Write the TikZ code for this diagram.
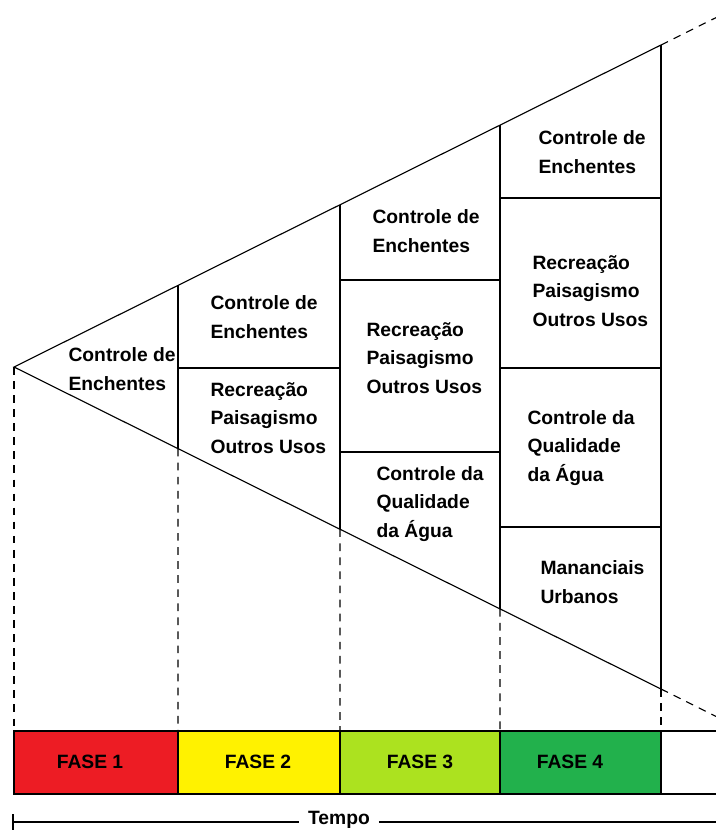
\documentclass[tikz,border=0pt]{standalone}
\usepackage{fontspec}
\setmainfont{Liberation Sans}
\usetikzlibrary{calc}

\definecolor{fasered}{HTML}{ED1C24}
\definecolor{faseyellow}{HTML}{FFF200}
\definecolor{faselime}{HTML}{ACE21F}
\definecolor{fasegreen}{HTML}{22B14C}

\tikzset{
    uso/.style={font=\bfseries\fontsize{13.7}{20.2}\selectfont, align=left, inner sep=0pt, anchor=west},
    fasebox/.style={draw, line width=0.8pt},
    guia/.style={line width=0.8pt, dash pattern=on 5.5pt off 4.5pt},
}

\begin{document}
\begin{tikzpicture}[x=0.025cm, y=-0.025cm, line width=0.8pt]
        \useasboundingbox (0,0) rectangle (716,830);
        % cone
        \coordinate (apex) at (14,367);
        \coordinate (t4) at (661,45);
        \coordinate (b4) at (661,689);
        \coordinate (t1) at ($(apex)!0.2535!(t4)$);
        \coordinate (b1) at ($(apex)!0.2535!(b4)$);
        \coordinate (t2) at ($(apex)!0.5039!(t4)$);
        \coordinate (b2) at ($(apex)!0.5039!(b4)$);
        \coordinate (t3) at ($(apex)!0.7512!(t4)$);
        \coordinate (b3) at ($(apex)!0.7512!(b4)$);
        \draw (t4) -- (apex) -- (b4);
        \draw[guia] (t4) -- ($(apex)!1.085!(t4)$);
        \draw[guia] (b4) -- ($(apex)!1.085!(b4)$);
        \draw (t1) -- (b1) (t2) -- (b2) (t3) -- (b3) (t4) -- (b4);
        % divisions
        \draw (178,368) -- (340,368);
        \draw (340,280) -- (500,280) (340,452) -- (500,452);
        \draw (500,198) -- (661,198) (500,368) -- (661,368) (500,527) -- (661,527);
        % uses
        \node[uso] (c1) at (68,369) {Controle de\\Enchentes};
        \node[uso] (c2a) at (210,317) {Controle de\\Enchentes};
        \node[uso] (c2b) at (210,418) {Recreação\\Paisagismo\\Outros Usos};
        \node[uso] (c3a) at (372,231) {Controle de\\Enchentes};
        \node[uso] (c3b) at (366,358) {Recreação\\Paisagismo\\Outros Usos};
        \node[uso] (c3c) at (376,504) {Controle da\\Qualidade\\da Água};
        \node[uso] (c4a) at (538,152) {Controle de\\Enchentes};
        \node[uso] (c4b) at (532,291) {Recreação\\Paisagismo\\Outros Usos};
        \node[uso] (c4c) at (527,448) {Controle da\\Qualidade\\da Água};
        \node[uso] (c4d) at (540,582) {Mananciais\\Urbanos};
        % phases
        \draw[fasebox, fill=fasered] (14,731) rectangle (178,794);
        \draw[fasebox, fill=faseyellow] (178,731) rectangle (340,794);
        \draw[fasebox, fill=faselime] (340,731) rectangle (500,794);
        \draw[fasebox, fill=fasegreen] (500,731) rectangle (661,794);
        \draw (661,731) -- (716,731) (661,794) -- (716,794);
        \node[uso, anchor=center] (fase1) at (90,762) {FASE 1};
        \node[uso, anchor=center] (fase2) at (258,762) {FASE 2};
        \node[uso, anchor=center] (fase3) at (420,762) {FASE 3};
        \node[uso, anchor=center] (fase4) at (570,762) {FASE 4};
        \draw[guia] (apex) -- (14,731);
        \draw[guia] (b1) -- (178,731);
        \draw[guia] (b2) -- (340,731);
        \draw[guia] (b3) -- (500,731);
        \draw[guia] (b4) -- (661,731);
        % time axis
        \node[uso, anchor=center, inner sep=6pt] (tempo) at (339,820) {Tempo};
        \coordinate (t0) at (13,822);
        \coordinate (tf) at (716,822);
        \draw (t0) -- (tempo.west |- t0) (tempo.east |- tf) -- (tf);
        \draw (13,814) -- (13,830);
    \end{tikzpicture}
\end{document}
